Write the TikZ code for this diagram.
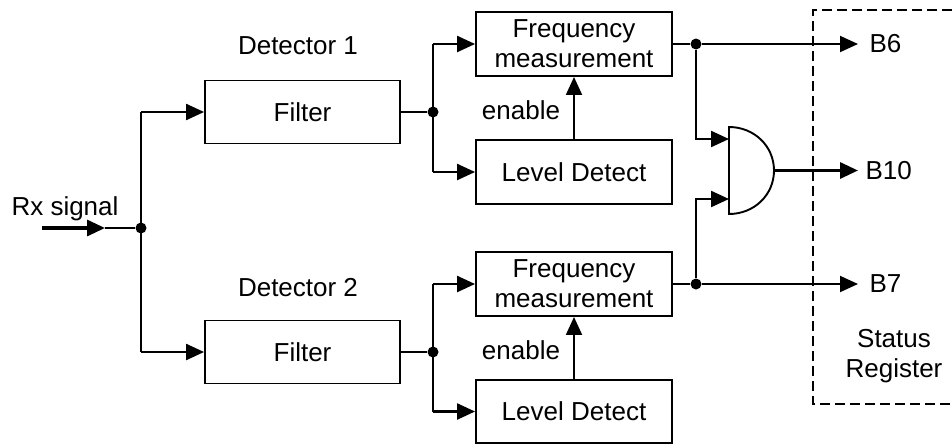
\documentclass[tikz,border=0pt]{standalone}
\usepackage{fontspec}
\setmainfont{Liberation Sans}
\usetikzlibrary{arrows.meta,calc}
\begin{document}
\begin{tikzpicture}[x=1pt,y=-1pt,
  every node/.style={font=\fontsize{26}{30}\selectfont},
  blk/.style={draw, line width=1.9pt, minimum width=196pt, minimum height=64pt, inner sep=0pt, align=center},
  wire/.style={line width=1.9pt},
  arr/.style={line width=2.3pt, -{Triangle[length=18pt,width=16pt]}},
  arrthin/.style={line width=1.9pt, -{Triangle[length=18pt,width=16pt]}},
  arrthick/.style={line width=3.2pt, -{Triangle[length=18pt,width=16pt]}},
  dot/.style={circle, fill, inner sep=0pt, minimum size=11pt},
  regbox/.style={line width=2.6pt, dash pattern=on 10pt off 5pt},
]
\useasboundingbox (0,0) rectangle (952,445);

% blocks
\node[blk, minimum width=195pt, minimum height=63pt] (f1) at (302.5,112) {Filter};
\node[blk, minimum width=195pt, minimum height=63pt] (f2) at (302.5,352) {Filter};
\node[blk] (fm1) at (574,44) {Frequency\\measurement};
\node[blk] (ld1) at (574,172) {Level Detect};
\node[blk] (fm2) at (574,284) {Frequency\\measurement};
\node[blk, minimum height=63pt] (ld2) at (574,411.5) {Level Detect};

% labels
\node (rx) at (65,209) {Rx signal};
\node (det1) at (298,46) {Detector 1};
\node (det2) at (298,288) {Detector 2};
\node (en1) at (521,110) {enable};
\node (en2) at (521,350) {enable};
\node[anchor=west] (b6) at (866,44) {B6};
\node[anchor=west] (b10) at (862,170.5) {B10};
\node[anchor=west] (b7) at (866,284) {B7};
\node[align=center] (sr) at (894,356) {Status\\Register};

% junctions
\node[dot] (s0) at (141,228) {};
\node[dot] (s1) at (433,112) {};
\node[dot] (s2) at (433,352) {};
\node[dot] (d1) at (696,44) {};
\node[dot] (d2) at (696,284) {};

\coordinate (rxin) at (42,228);
\coordinate (rxtip) at (105,228);
\coordinate (c1) at (141,112);
\coordinate (c2) at (141,352);
\coordinate (t6) at (858,44);
\coordinate (t10) at (858,170.5);
\coordinate (t7) at (858,284);
\coordinate (gin1) at (729,139);
\coordinate (gin2) at (729,199);
\coordinate (gout) at (774,170.5);

% input
\draw[arrthick] (rxin) -- (rxtip);
\draw[wire] (rxtip) -- (s0);
\draw[wire] (c1) -- (c2);
\draw[arr] (c1) -- (f1.west);
\draw[arr] (c2) -- (f2.west);

% detector 1
\draw[wire] (f1.east) -- (s1);
\draw[wire] (s1 |- fm1.west) -- (s1 |- ld1.west);
\draw[arr] (s1 |- fm1.west) -- (fm1.west);
\draw[arr] (s1 |- ld1.west) -- (ld1.west);
\draw[arrthin] (ld1.north) -- (fm1.south);

% detector 2
\draw[wire] (f2.east) -- (s2);
\draw[wire] (s2 |- fm2.west) -- (s2 |- ld2.west);
\draw[arr] (s2 |- fm2.west) -- (fm2.west);
\draw[arr] (s2 |- ld2.west) -- (ld2.west);
\draw[arrthin] (ld2.north) -- (fm2.south);

% outputs
\draw[wire] (fm1.east) -- (d1);
\draw[arrthin] (d1) -- (t6);
\draw[wire] (fm2.east) -- (d2);
\draw[arrthin] (d2) -- (t7);
\draw[arr] (d1) |- (gin1);
\draw[arr] (d2) |- (gin2);

% AND gate
\draw[line width=1.9pt] (729,127) .. controls (754,127) and (774,146) .. (gout)
  .. controls (774,195) and (754,214) .. (729,214) -- cycle;
\draw[arrthick] (gout) -- (t10);

% status register
\draw[regbox] (952,10) -- (813,10) -- (813,404) -- (952,404);
\end{tikzpicture}
\end{document}
